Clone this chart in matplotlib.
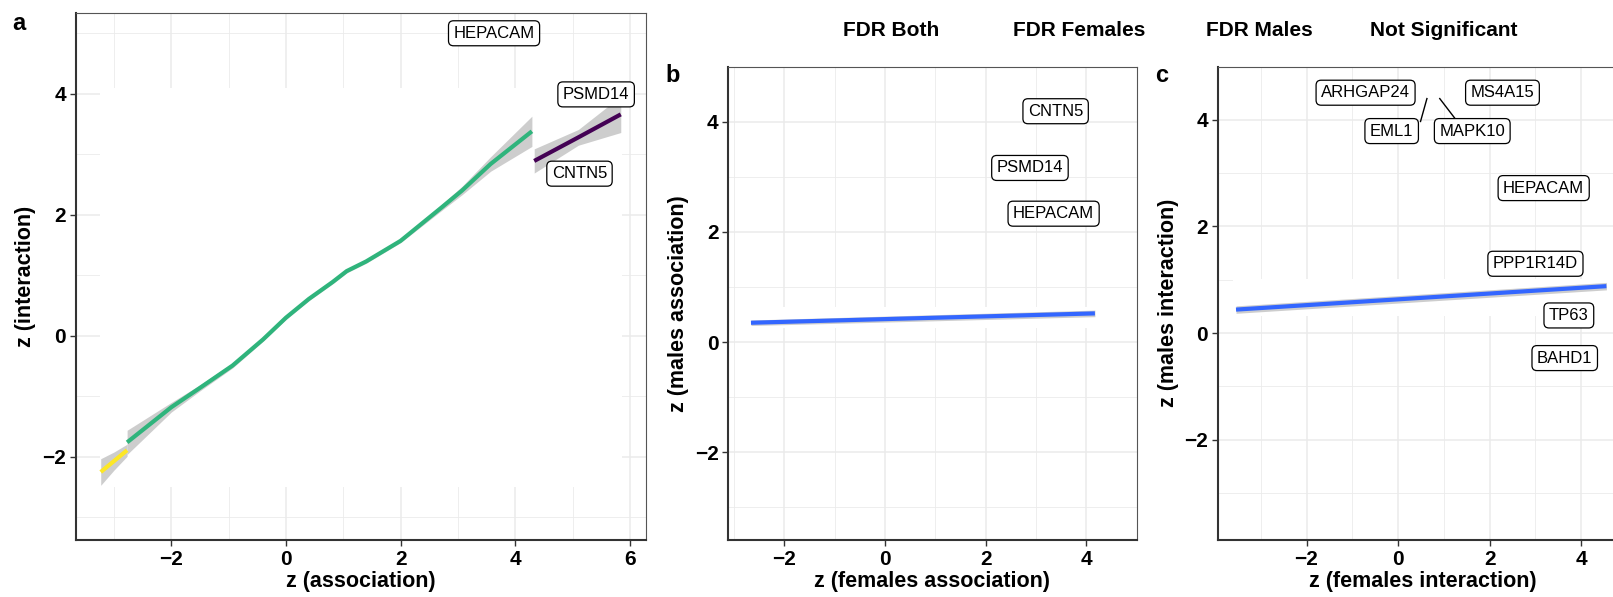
import matplotlib
matplotlib.use("Agg")
import matplotlib.pyplot as plt
import numpy as np

plt.rcParams['font.family'] = ['Liberation Sans', 'DejaVu Sans']

# ---- panel a: smooth fits by group
a_yellow_x = [-3.23, -3.0, -2.77]
a_yellow_y = [-2.25, -2.07, -1.89]
a_yellow_se = [0.22, 0.15, 0.10]

a_green_x = [-2.77, -2.0, -1.5, -0.93, -0.4, 0.0, 0.4, 0.815, 1.06, 1.4, 1.70, 2.0, 2.35, 2.7, 3.07, 3.57, 4.29]
a_green_y = [-1.76, -1.18, -0.86, -0.49, -0.06, 0.30, 0.61, 0.89, 1.07, 1.23, 1.40, 1.57, 1.84, 2.11, 2.40, 2.84, 3.38]
a_green_se = [0.20, 0.08, 0.05, 0.04, 0.03, 0.03, 0.03, 0.03, 0.03, 0.03, 0.03, 0.03, 0.04, 0.05, 0.07, 0.12, 0.25]

a_purple_x = [4.33, 5.1, 5.84]
a_purple_y = [2.89, 3.28, 3.66]
a_purple_se = [0.20, 0.13, 0.30]

a_labels = ['HEPACAM', 'PSMD14', 'CNTN5']
a_lab_x = [3.63, 5.41, 5.12]
a_lab_y = [5.0, 3.99, 2.68]

# ---- panel b
b_x = [-2.66, 4.17]
b_y = [0.35, 0.52]
b_se = [0.05, 0.06]
b_labels = ['CNTN5', 'PSMD14', 'HEPACAM']
b_lab_x = [3.39, 2.88, 3.35]
b_lab_y = [4.19, 3.16, 2.33]

# ---- panel c
c_x = [-3.54, 4.55]
c_y = [0.44, 0.88]
c_se = [0.07, 0.07]
c_labels = ['ARHGAP24', 'MS4A15', 'EML1', 'MAPK10', 'HEPACAM', 'PPP1R14D', 'TP63', 'BAHD1']
c_lab_x = [-0.71, 2.28, -0.14, 1.62, 3.18, 3.0, 3.73, 3.64]
c_lab_y = [4.51, 4.51, 3.79, 3.79, 2.72, 1.30, 0.33, -0.47]
# repel segments (from label to point)
c_seg = [((0.49, 3.97), (0.63, 4.40)), ((1.24, 4.03), (0.91, 4.40))]

legend_names = ['FDR Both', 'FDR Females', 'FDR Males', 'Not Significant']
legend_xpix = [843, 1013, 1206, 1370]

# white areas from invisible points (hide grid)
a_mask_x = [-3.25, 5.87]
a_mask_y = [-2.5, 4.10]
b_mask_x = [-2.75, 4.2]
b_mask_y = [0.26, 0.63]
c_mask_x = [-3.6, 4.9]
c_mask_y = [0.32, 1.02]

W, H = 1613, 597
fig = plt.figure(figsize=(W / 100, H / 100), dpi=100)

def px_axes(l, t, r, b):
    return fig.add_axes([l / W, 1 - b / H, (r - l) / W, (b - t) / H])

ax_a = px_axes(75.5, 13.3, 646, 539.8)
ax_b = px_axes(728.3, 66.6, 1136.7, 539.8)
ax_c = px_axes(1217.7, 66.6, 1627, 539.8)

GRID = '#EBEBEB'
bbox = dict(boxstyle='round,pad=0.3,rounding_size=0.3', fc='white', ec='black', lw=0.9)


def style(ax, xlim, ylim, xlabel, ylabel):
    ax.set_xlim(*xlim)
    ax.set_ylim(*ylim)
    ax.set_xticks([-2, 0, 2, 4, 6] if xlim[1] > 6 else [-2, 0, 2, 4])
    ax.set_yticks([-2, 0, 2, 4])
    ax.set_xticks(np.arange(-3, 7, 2), minor=True)
    ax.set_yticks(np.arange(-3, 7, 2), minor=True)
    ax.set_xticklabels([str(t).replace('-', '\u2212') for t in ax.get_xticks()])
    ax.set_yticklabels([str(t).replace('-', '\u2212') for t in ax.get_yticks()])
    ax.grid(True, which='major', color=GRID, lw=1.1)
    ax.grid(True, which='minor', color=GRID, lw=0.6)
    ax.set_axisbelow(True)
    ax.tick_params(which='major', direction='out', length=4, width=1, color='#333333',
                   labelsize=15, pad=3)
    ax.tick_params(which='minor', length=0)
    for lab in ax.get_xticklabels() + ax.get_yticklabels():
        lab.set_fontweight('bold')
    for s in ['top', 'right']:
        ax.spines[s].set_color('#555555')
        ax.spines[s].set_linewidth(0.8)
    for s in ['left', 'bottom']:
        ax.spines[s].set_color('#333333')
        ax.spines[s].set_linewidth(1.5)
    ax.set_xlabel(xlabel, fontsize=15.5, fontweight='bold', labelpad=2)
    ax.set_ylabel(ylabel, fontsize=15.5, fontweight='bold', labelpad=4)


def mask(ax, mx, my):
    ax.fill_between(mx, [my[0]] * 2, [my[1]] * 2, color='white', lw=0, zorder=0.8)


def smooth(ax, x, y, se, color, lw=3):
    x = np.array(x); y = np.array(y); se = np.array(se)
    ax.fill_between(x, y - se, y + se, color='#BDBDBD', alpha=0.75, lw=0, zorder=1)
    ax.plot(x, y, color=color, lw=lw, solid_capstyle='butt', solid_joinstyle='round', zorder=2)


def labels(ax, names, xs, ys):
    for n, x, y in zip(names, xs, ys):
        ax.text(x, y, n, fontsize=12, ha='center', va='center', bbox=bbox, zorder=4)


# panel a
style(ax_a, (-3.67, 6.28), (-3.37, 5.33), 'z (association)', 'z (interaction)')
mask(ax_a, a_mask_x, a_mask_y)
smooth(ax_a, a_yellow_x, a_yellow_y, a_yellow_se, '#FDE725')
smooth(ax_a, a_green_x, a_green_y, a_green_se, '#2FB47C')
smooth(ax_a, a_purple_x, a_purple_y, a_purple_se, '#440154')
labels(ax_a, a_labels, a_lab_x, a_lab_y)

# panel b
style(ax_b, (-3.11, 4.64), (-3.59, 4.63), 'z (females association)', 'z (males association)')
mask(ax_b, b_mask_x, b_mask_y)
smooth(ax_b, b_x, b_y, b_se, '#3366FF')
labels(ax_b, b_labels, b_lab_x, b_lab_y)

# panel c
style(ax_c, (-3.94, 5.0), (-3.88, 4.84), 'z (females interaction)', 'z (males interaction)')
mask(ax_c, c_mask_x, c_mask_y)
smooth(ax_c, c_x, c_y, c_se, '#3366FF')
for (p0, p1) in c_seg:
    ax_c.plot([p0[0], p1[0]], [p0[1], p1[1]], color='black', lw=1, zorder=3)
labels(ax_c, c_labels, c_lab_x, c_lab_y)

# panel tags
fig.text(18.4 / W, 1 - 23.6 / H, 'a', fontsize=17, fontweight='bold', ha='center', va='center')
fig.text(672.7 / W, 1 - 75 / H, 'b', fontsize=17, fontweight='bold', ha='center', va='center')
fig.text(1161.7 / W, 1 - 76 / H, 'c', fontsize=17, fontweight='bold', ha='center', va='center')

# legend (keys are blank)
for name, xp in zip(legend_names, legend_xpix):
    fig.text(xp / W, 1 - 31 / H, name, fontsize=15, fontweight='bold', ha='left', va='center')

fig.savefig('out.png', dpi=100)
